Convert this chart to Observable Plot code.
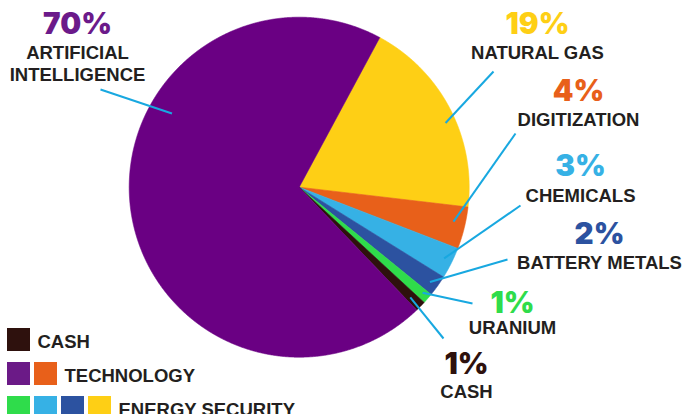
<!DOCTYPE html>
<html><head><meta charset="utf-8">
<script src="https://cdn.jsdelivr.net/npm/d3@7"></script>
<script src="https://cdn.jsdelivr.net/npm/@observablehq/plot@0.6"></script>
<style>body{margin:0;background:#fff;overflow:hidden}</style>
</head><body><div id="chart"></div>
<script>
// ---- data ----
const categories = ["NATURAL GAS","DIGITIZATION","CHEMICALS","BATTERY METALS","URANIUM","CASH","ARTIFICIAL INTELLIGENCE"];
const shares = [19, 4, 3, 2, 1, 1, 70];
const pctLabels = ["19%","4%","3%","2%","1%","1%","70%"];
const nameLabels = ["NATURAL GAS","DIGITIZATION","CHEMICALS","BATTERY METALS","URANIUM","CASH","ARTIFICIAL\nINTELLIGENCE"];
const legendGroups = ["CASH","TECHNOLOGY","ENERGY SECURITY"];
const legendMembers = [["CASH"],["ARTIFICIAL INTELLIGENCE","DIGITIZATION"],["URANIUM","CHEMICALS","BATTERY METALS","NATURAL GAS"]];

// ---- styles ----
const sliceColor = {
  "NATURAL GAS":"#fecf15","DIGITIZATION":"#e8601a","CHEMICALS":"#36b1e5",
  "BATTERY METALS":"#2c52a0","URANIUM":"#2fdc4b","CASH":"#2e110d","ARTIFICIAL INTELLIGENCE":"#6a0083"
};
const pctColor = {...sliceColor, "ARTIFICIAL INTELLIGENCE":"#6b1a8a"};
const legendColor = {...sliceColor, "ARTIFICIAL INTELLIGENCE":"#6b1a87"};
const textDark = "#231f20";
const leaderColor = "#18a8e0";
const font = "'Liberation Sans', Arial, sans-serif";
const pctFont = "Inter, 'Liberation Sans', sans-serif";

// ---- layout ----
const W = 684, H = 414;
const cx = 298.7, cy = 186.7, R = 170;
const startDeg = 28.3;
// label layout: x center, percent baseline, name baseline, leader outer end, leader inner (t within slice, radius frac)
const labelLayout = {
  "ARTIFICIAL INTELLIGENCE": {x:77, pb:33, nb:80, ox:100, oy:89, t:0.65, rf:0.865},
  "NATURAL GAS": {x:537, pb:33, nb:58, ox:493, oy:71, t:0.556, rf:0.94},
  "DIGITIZATION": {x:578, pb:100, nb:125, ox:515, oy:133, t:0.41, rf:0.93},
  "CHEMICALS": {x:580, pb:175, nb:201, ox:520, oy:205, t:0.47, rf:0.95},
  "BATTERY METALS": {x:599, pb:243, nb:268, ox:507, oy:259, t:0.56, rf:0.95},
  "URANIUM": {x:512, pb:312, nb:333, ox:472, oy:303, t:0.4, rf:0.955},
  "CASH": {x:466, pb:373, nb:397, ox:443, oy:338, t:0.57, rf:0.92}
};
const legendLayout = {x0:7, y0:328, size:23, gap:4, row:34};

// ---- build ----
const rows = categories.map((c,i)=>({key:c, share:shares[i], pct:pctLabels[i], name:nameLabels[i]}));
const a0 = startDeg*Math.PI/180;
const arcs = d3.pie().sort(null).value(d=>d.share).startAngle(a0).endAngle(a0+2*Math.PI)(rows);
const pt = (a,f)=>({x: cx + R*f*Math.sin(a), y: cy - R*f*Math.cos(a)});

const sliceMarks = arcs.map(p=>{
  const n = Math.max(4, Math.ceil((p.endAngle-p.startAngle)/0.004));
  const pts = [{x:cx,y:cy}];
  for(let i=0;i<=n;i++) pts.push(pt(p.startAngle+(p.endAngle-p.startAngle)*i/n,1));
  pts.push({x:cx,y:cy});
  const col = sliceColor[p.data.key];
  return Plot.line(pts,{x:"x",y:"y",fill:col,stroke:col,strokeWidth:0.6,strokeLinejoin:"round"});
});

const leaders = arcs.map(p=>{
  const L = labelLayout[p.data.key];
  const a = p.startAngle + (p.endAngle-p.startAngle)*L.t;
  const q = pt(a, L.rf);
  return {x1:q.x, y1:q.y, x2:L.ox, y2:L.oy};
});

const labels = rows.map(r=>({...r, ...labelLayout[r.key]}));

const legendSw = [];
const legendTx = [];
legendGroups.forEach((g,i)=>{
  const y1 = legendLayout.y0 + i*legendLayout.row;
  legendMembers[i].forEach((m,j)=>{
    const x1 = legendLayout.x0 + j*(legendLayout.size+legendLayout.gap);
    legendSw.push({x1, x2:x1+legendLayout.size, y1, y2:y1+legendLayout.size, fill:legendColor[m]});
  });
  legendTx.push({text:g, x: legendLayout.x0 + legendMembers[i].length*(legendLayout.size+legendLayout.gap)+3, y: y1+19});
});

const chart = Plot.plot({
  width: W, height: H, margin: 0,
  x: {domain:[0,W], range:[0,W], axis:null},
  y: {domain:[0,H], range:[0,H], axis:null},
  color: {type:"identity"},
  style: {background:"#fff", fontFamily: font},
  marks: [
    ...sliceMarks,
    Plot.link(leaders,{x1:"x1",y1:"y1",x2:"x2",y2:"y2",stroke:leaderColor,strokeWidth:2}),
    Plot.text(labels,{x:"x",y:"pb",text:"pct",fill:d=>pctColor[d.key],fontSize:29.5,fontWeight:900,lineAnchor:"bottom",textAnchor:"middle",fontFamily:pctFont}),
    Plot.text(labels,{x:"x",y:"nb",text:"name",fill:textDark,fontSize:18.5,fontWeight:"bold",lineAnchor:"bottom",textAnchor:"middle",lineHeight:22/18.5,fontFamily:font}),
    Plot.rect(legendSw,{x1:"x1",x2:"x2",y1:"y1",y2:"y2",fill:"fill"}),
    Plot.text(legendTx,{x:"x",y:"y",text:"text",fill:textDark,fontSize:18.5,fontWeight:"bold",lineAnchor:"bottom",textAnchor:"start",fontFamily:font})
  ]
});
document.getElementById("chart").appendChild(chart);
</script>
</body></html>
